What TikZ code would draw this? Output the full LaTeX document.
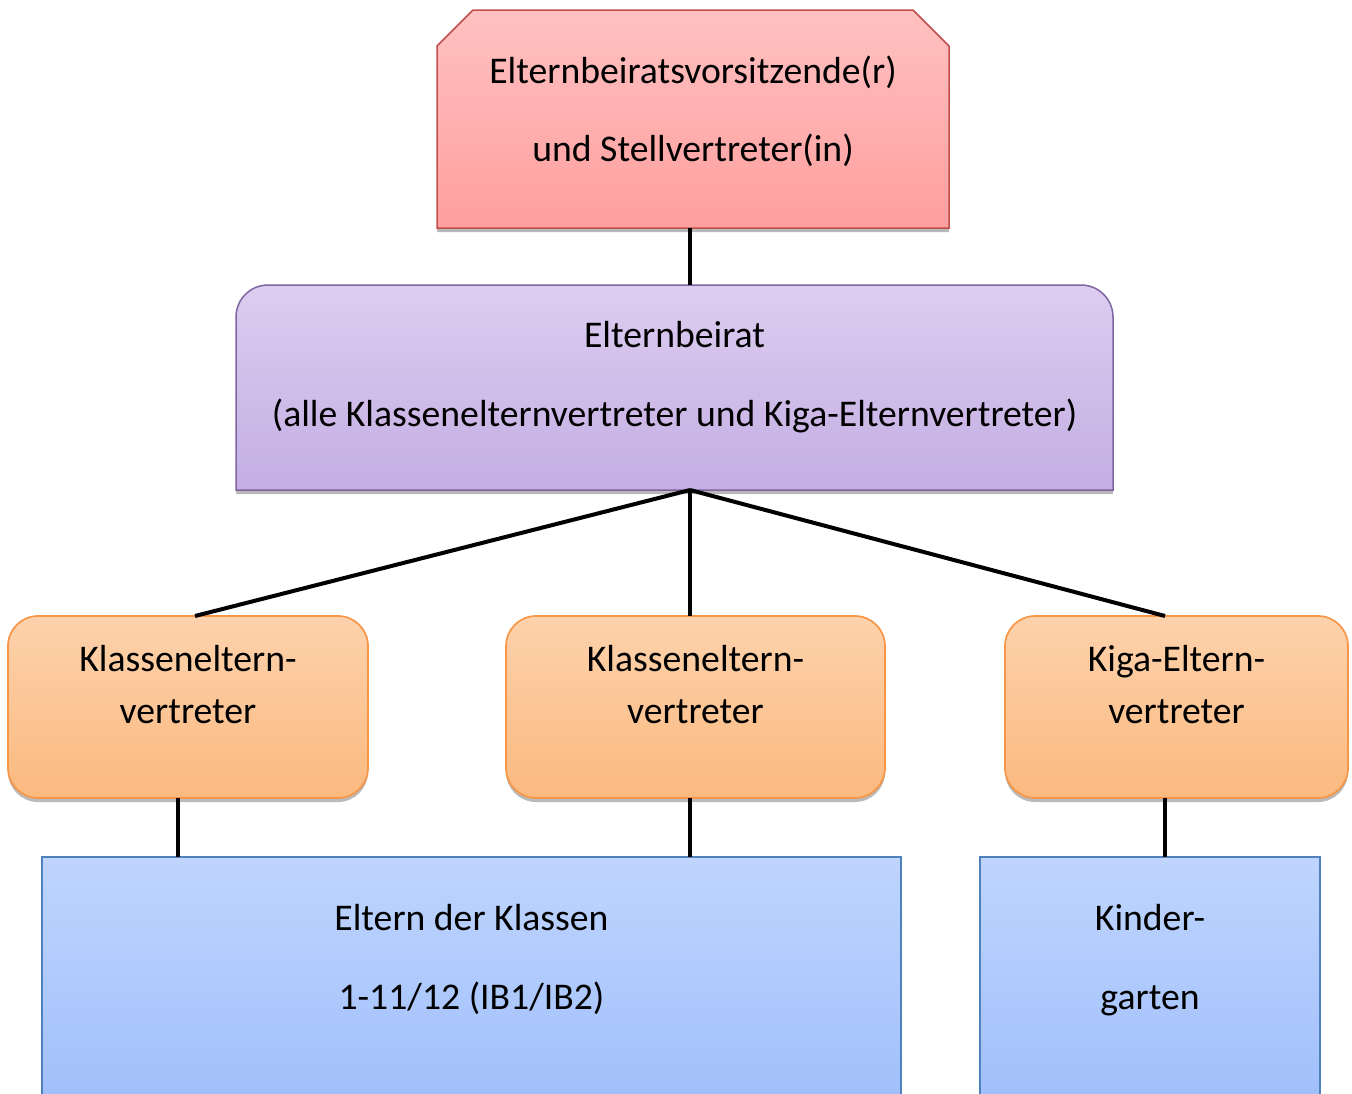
\documentclass[tikz,border=0pt]{standalone}
\usepackage{fontspec}
\setmainfont{Carlito}
\usetikzlibrary{calc}
\usetikzlibrary{shadows}

\definecolor{redtop}{HTML}{FFC1C1}
\definecolor{redbot}{HTML}{FF9E9E}
\definecolor{redline}{HTML}{C0504D}
\definecolor{lilatop}{HTML}{DCCDF0}
\definecolor{lilabot}{HTML}{C4AEE3}
\definecolor{lilaline}{HTML}{8064A2}
\definecolor{orangetop}{HTML}{FDD2AC}
\definecolor{orangebot}{HTML}{FBB97F}
\definecolor{orangeline}{HTML}{F79646}
\definecolor{bluetop}{HTML}{BFD5FE}
\definecolor{bluebot}{HTML}{A0BFFB}
\definecolor{blueline}{HTML}{4F81BD}

\tikzset{
 box/.style={inner sep=0, outer sep=0, anchor=north west},
 dropsh/.style={drop shadow={shadow xshift=0pt, shadow yshift=-4pt, opacity=.55}},
 txt/.style={font=\fontsize{37.7}{44}\selectfont, anchor=base, inner sep=0},
 conn/.style={black, line width=4pt},
}

\begin{document}
\begin{tikzpicture}[x=1pt,y=1pt]
\useasboundingbox (0,0) rectangle (1352,-1093);
% obere Ebene
\node[box, minimum width=512pt, minimum height=218pt] (vorsitz) at (437,-10) {};
\path[dropsh, draw=redline, line width=1.5pt, top color=redtop, bottom color=redbot]
 (vorsitz.south west) -- ([yshift=-36pt]vorsitz.north west) -- ([xshift=36pt]vorsitz.north west)
 -- ([xshift=-36pt]vorsitz.north east) -- ([yshift=-36pt]vorsitz.north east) -- (vorsitz.south east) -- cycle;
\node[txt] (vorsitz-1) at ([yshift=-73pt]vorsitz.north) {Elternbeiratsvorsitzende(r)};
\node[txt] (vorsitz-2) at ([yshift=-151pt]vorsitz.north) {und Stellvertreter(in)};

\node[box, minimum width=877pt, minimum height=205pt] (beirat) at (236,-285) {};
\path[dropsh, draw=lilaline, line width=1.5pt, top color=lilatop, bottom color=lilabot]
 (beirat.south west) -- ([yshift=-32pt]beirat.north west) arc[start angle=180, end angle=90, radius=32pt]
 -- ([xshift=-32pt]beirat.north east) arc[start angle=90, end angle=0, radius=32pt] -- (beirat.south east) -- cycle;
\node[txt] (beirat-1) at ([yshift=-62pt]beirat.north) {Elternbeirat};
\node[txt] (beirat-2) at ([yshift=-141pt]beirat.north) {(alle Klassenelternvertreter und Kiga-Elternvertreter)};

% Vertreter
\foreach \nm/\x/\w/\la/\lb in {kev1/8/360/Klasseneltern-/vertreter, kev2/506/379/Klasseneltern-/vertreter, kiga/1005/343/Kiga-Eltern-/vertreter} {
 \node[box, dropsh, draw=orangeline, line width=1.7pt, rounded corners=30pt, top color=orangetop, bottom color=orangebot,
  minimum width=\w pt, minimum height=182pt] (\nm) at (\x,-616) {};
 \node[txt] (\nm-1) at ([yshift=-55pt]\nm.north) {\la};
 \node[txt] (\nm-2) at ([yshift=-107pt]\nm.north) {\lb};
}

% Eltern
\foreach \nm/\x/\w/\la/\lb in {eltern/42/859/Eltern der Klassen/{1-11/12 (IB1/IB2)}, kinder/980/340/Kinder-/garten} {
 \node[box, draw=blueline, line width=1.5pt, top color=bluetop, bottom color=bluebot,
  minimum width=\w pt, minimum height=245pt] (\nm) at (\x,-857) {};
 \node[txt] (\nm-1) at ([yshift=-73pt]\nm.north) {\la};
 \node[txt] (\nm-2) at ([yshift=-152pt]\nm.north) {\lb};
}

% Verbindungen
\coordinate (fork) at ([xshift=15.5pt]beirat.south);
\draw[conn] (vorsitz.south -| fork) -- (beirat.north -| fork);
\draw[conn] (fork) -- ([xshift=7pt]kev1.north);
\draw[conn] (fork) -- (kev2.north -| fork);
\draw[conn] (fork) -- ([xshift=-11.5pt]kiga.north);
\coordinate (k1) at ([xshift=-10pt]kev1.south);
\coordinate (k3) at ([xshift=-11.5pt]kiga.south);
\draw[conn] (k1) -- (eltern.north -| k1);
\draw[conn] (kev2.south -| fork) -- (eltern.north -| fork);
\draw[conn] (k3) -- (kinder.north -| k3);
\end{tikzpicture}
\end{document}
